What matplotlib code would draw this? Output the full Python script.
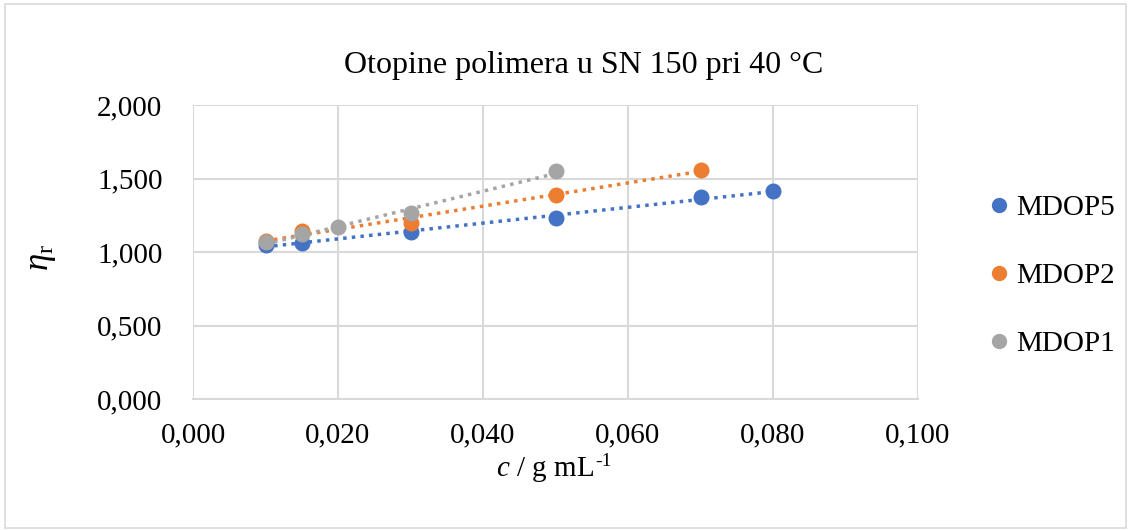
import numpy as np
import matplotlib
matplotlib.use("Agg")
import matplotlib.pyplot as plt
from matplotlib.patches import Rectangle

plt.rcParams['font.family'] = ['Liberation Serif', 'DejaVu Serif']
plt.rcParams['mathtext.fontset'] = 'custom'
plt.rcParams['mathtext.it'] = 'Liberation Serif:italic'
plt.rcParams['mathtext.rm'] = 'Liberation Serif'

series_names = ["MDOP5", "MDOP2", "MDOP1"]
colors = ["#4472C4", "#ED7D31", "#A5A5A5"]
x_mdop5 = [0.010, 0.015, 0.030, 0.050, 0.070, 0.080]
y_mdop5 = [1.048, 1.062, 1.135, 1.230, 1.372, 1.413]
x_mdop2 = [0.010, 0.015, 0.030, 0.050, 0.070]
y_mdop2 = [1.075, 1.140, 1.200, 1.388, 1.560]
x_mdop1 = [0.010, 0.015, 0.020, 0.030, 0.050]
y_mdop1 = [1.068, 1.120, 1.168, 1.262, 1.550]
xs = [x_mdop5, x_mdop2, x_mdop1]
ys = [y_mdop5, y_mdop2, y_mdop1]
x_ticks = [0.0, 0.02, 0.04, 0.06, 0.08, 0.10]
y_ticks = [0.0, 0.5, 1.0, 1.5, 2.0]

fig = plt.figure(figsize=(11.31, 5.30), dpi=100)
ax = fig.add_axes([193/1131, 1-399/530, (918-193)/1131, (399-105)/530])

for name, c, x, y in zip(series_names, colors, xs, ys):
    x = np.array(x); y = np.array(y)
    ax.plot(x, y, 'o', color=c, markersize=10.5, label=name, zorder=3)
    k, b = np.polyfit(x, y, 1)
    xx = np.array([x.min(), x.max()])
    ax.plot(xx, k*xx + b, linestyle=(0, (1, 1.5)), color=c, linewidth=2.5, zorder=2)

ax.set_xlim(0, 0.1)
ax.set_ylim(0, 2.0)
ax.set_xticks(x_ticks)
ax.set_yticks(y_ticks)
ax.set_xticklabels([f"{v:.3f}".replace('.', ',') for v in x_ticks])
ax.set_yticklabels([f"{v:.3f}".replace('.', ',') for v in y_ticks])
ax.grid(True, color='#D9D9D9', linewidth=1.5)
ax.set_axisbelow(True)
for s in ['top', 'right', 'left']:
    ax.spines[s].set_visible(False)
ax.spines['bottom'].set_color('#D9D9D9')
ax.spines['bottom'].set_linewidth(1.5)
ax.tick_params(axis='both', length=0, labelsize=21)
ax.tick_params(axis='y', pad=22)
ax.tick_params(axis='x', pad=17)

fig.text(584/1131, 1-65/530, "Otopine polimera u SN 150 pri 40 °C", fontsize=23,
         ha='center', va='center')
xl = fig.text(545/1131, 1-470/530, r"$c$ / g mL", fontsize=21, ha='center', va='center')
fig.text(42/1131, 1-258/530, r"$\eta_{\mathrm{r}}$", fontsize=25, ha='center', va='center',
         rotation=90)

fig.canvas.draw()
bb = xl.get_window_extent()
fig.text((bb.x1 + 1)/1131, bb.y1/530 + 0.004, "-1", fontsize=14, ha='left', va='top')

handles = [plt.Line2D([], [], marker='o', linestyle='none', color=c, markersize=10) for c in colors]
fig.legend(handles, series_names, loc='center left', bbox_to_anchor=(955/1131, 1-276/530),
           frameon=False, fontsize=21, handletextpad=0.0, labelspacing=1.42, handlelength=1.2)

fig.patches.append(Rectangle((0.004, 0.004), 0.992, 0.988, transform=fig.transFigure,
                             fill=False, edgecolor='#D9D9D9', linewidth=1.2))
fig.savefig("out.png", dpi=100)
